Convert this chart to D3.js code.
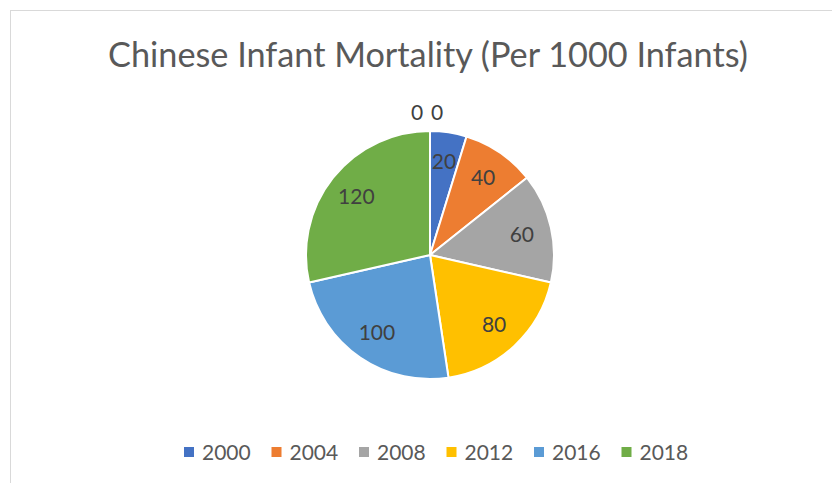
<!DOCTYPE html>
<html>
<head>
<meta charset="utf-8">
<script src="https://cdn.jsdelivr.net/npm/d3@7"></script>
<style>
  body { margin: 0; background: #fff; }
  svg { display: block; font-family: Lato, 'Open Sans', sans-serif; }
</style>
</head>
<body>
<svg id="chart" width="832" height="483"></svg>
<script>
// data
const years = ['2000', '2004', '2008', '2012', '2016', '2018']
const values = [20, 40, 60, 80, 100, 120]
const colors = ['#4472C4', '#ED7D31', '#A5A5A5', '#FFC000', '#5B9BD5', '#70AD47']
// two empty points sit at the top of the pie, only their labels show
const zeroValues = [0, 0]
const title = 'Chinese Infant Mortality (Per 1000 Infants)'

const width = 832
const height = 483
const cx = 430, cy = 255, radius = 124

const svg = d3.select('#chart')

// chart area frame (only the top and left edges fall inside the window)
svg.append('rect')
  .attr('x', 10.5).attr('y', 10.5)
  .attr('width', 1000).attr('height', 1000)
  .attr('fill', 'none')
  .attr('stroke', '#d9d9d9')

// title, sized to the width it takes in the picture
const t = svg.append('text')
  .attr('x', 428).attr('y', 67)
  .attr('text-anchor', 'middle')
  .attr('fill', '#595959')
  .attr('font-size', 36)
  .text(title)
const tw = t.node().getComputedTextLength()
t.attr('font-size', 36 * 640 / tw)

const data = years.map((y, i) => ({ year: y, value: values[i], color: colors[i] }))

const pie = d3.pie().sort(null).value(d => d.value)
const arcs = pie(data)

const arc = d3.arc().innerRadius(0).outerRadius(radius)
const labelArc = d3.arc().innerRadius(radius * 0.76).outerRadius(radius * 0.76)

const g = svg.append('g').attr('transform', `translate(${cx},${cy})`)

g.selectAll('path')
  .data(arcs)
  .join('path')
  .attr('d', arc)
  .attr('fill', d => d.data.color)
  .attr('stroke', '#fff')
  .attr('stroke-width', 2)
  .attr('stroke-linejoin', 'round')

g.selectAll('text.lbl')
  .data(arcs)
  .join('text')
  .attr('class', 'lbl')
  .attr('transform', d => `translate(${labelArc.centroid(d)})`)
  .attr('text-anchor', 'middle')
  .attr('dy', '0.36em')
  .attr('fill', '#404040')
  .attr('font-size', 21)
  .text(d => d.value)

// labels of the zero points, pushed outside the rim at angle 0
const zeroY = -(radius + 19)
g.selectAll('text.zero')
  .data(zeroValues)
  .join('text')
  .attr('class', 'zero')
  .attr('x', (d, i) => (i - 0.5) * 20 - 3)
  .attr('y', zeroY)
  .attr('text-anchor', 'middle')
  .attr('dy', '0.36em')
  .attr('fill', '#404040')
  .attr('font-size', 21)
  .text(d => d)

// legend
const step = 87.5
const lx = d3.scaleBand().domain(years).range([184, 184 + step * years.length])

const legend = svg.append('g')
  .selectAll('g')
  .data(data)
  .join('g')
  .attr('transform', d => `translate(${lx(d.year)},447)`)

legend.append('rect')
  .attr('width', 10).attr('height', 10)
  .attr('fill', d => d.color)

legend.append('text')
  .attr('x', 18).attr('y', 13)
  .attr('fill', '#595959')
  .attr('font-size', 21)
  .text(d => d.year)
</script>
</body>
</html>
